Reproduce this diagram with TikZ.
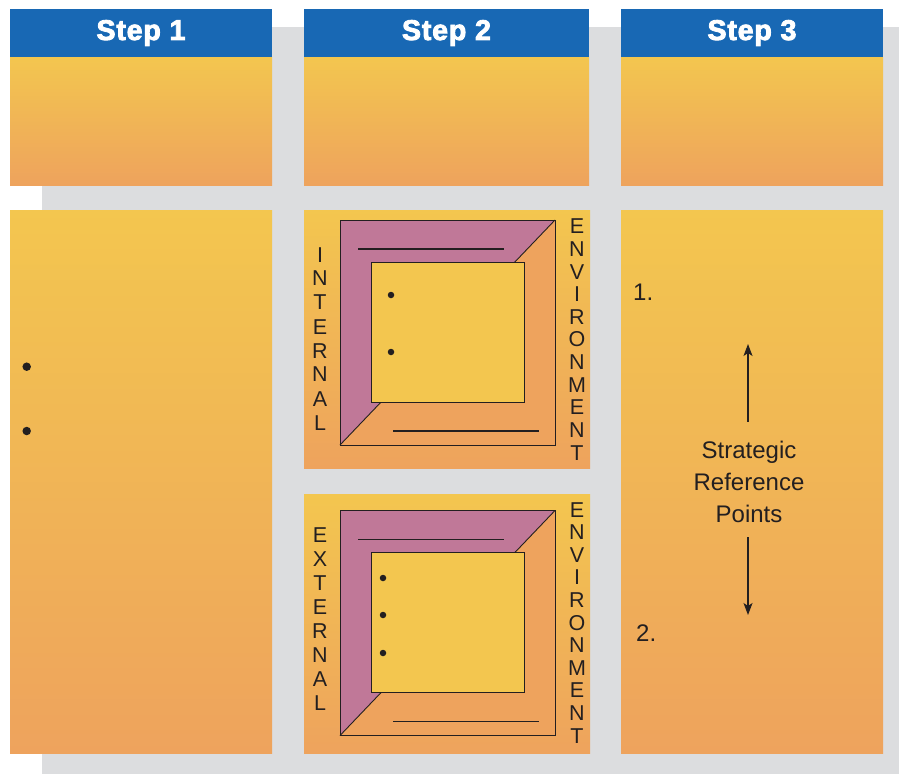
\documentclass[tikz,border=0pt]{standalone}
\usepackage{fontspec}
\setmainfont{Liberation Sans}
\newfontfamily\headfont{Liberation Sans Bold}[FakeBold=3,LetterSpace=3]
\usetikzlibrary{arrows.meta}
\definecolor{hblue}{HTML}{1868B4}
\definecolor{gtop}{HTML}{F3C64F}
\definecolor{gbot}{HTML}{EEA35D}
\definecolor{bggray}{HTML}{DCDDDF}
\definecolor{plum}{HTML}{C07898}
\definecolor{ink}{HTML}{231F20}
\tikzset{
  hdr/.style={fill=hblue, text=white, inner sep=0, font=\headfont\fontsize{28.5}{30}\selectfont},
  panel/.style={top color=gtop, bottom color=gbot, draw=none, inner sep=0},
  bul/.style={circle, fill=ink, inner sep=0, minimum size=6.5pt},
  bigbul/.style={circle, fill=ink, inner sep=0, minimum size=8.5pt},
  vlet/.style={inner sep=0, align=center, text=ink, anchor=north},
  lbl/.style={inner sep=0, text=ink, font=\fontsize{24}{32}\selectfont},
  sqline/.style={draw=ink, line width=1.2pt},
  arr/.style={draw=ink, line width=1.2pt, -{Stealth[length=12pt,width=9pt,inset=3pt]}},
  envsq/.pic={
    \fill[plum] (0,0) -- (215,0) -- (0,225) -- cycle;
    \fill[gbot] (215,0) -- (215,225) -- (0,225) -- cycle;
    \draw[ink, line width=0.9pt] (215,0) -- (0,225);
    \draw[ink, line width=1pt] (0,0) rectangle (215,225);
    \draw[ink, line width=1pt, fill=gtop] (31,42) rectangle (184,182);
    \draw[sqline] (18,29) -- (164,29);
    \draw[sqline] (53,211) -- (199,211);
  }
}
\begin{document}
\begin{tikzpicture}[x=1pt,y=-1pt]
\useasboundingbox (0,0) rectangle (899,774);
\fill[bggray] (42,27) rectangle (899,774);
% headers
\node[hdr, minimum width=262pt, minimum height=48pt] (h1) at (141,33) {Step 1};
\node[hdr, minimum width=285pt, minimum height=48pt] (h2) at (446.5,33) {Step 2};
\node[hdr, minimum width=262pt, minimum height=48pt] (h3) at (752,33) {Step 3};
% upper gradient panels
\node[panel, minimum width=262pt, minimum height=128pt] (u1) at (141,121) {};
\node[panel, minimum width=285pt, minimum height=128pt] (u2) at (446.5,121) {};
\node[panel, minimum width=262pt, minimum height=128pt] (u3) at (752,121) {};
% lower panels
\node[panel, minimum width=262pt, minimum height=543pt] (l1) at (141,481.5) {};
\node[panel, minimum width=286pt, minimum height=258pt] (l2a) at (447,339) {};
\node[panel, minimum width=286pt, minimum height=259pt] (l2b) at (447,623.5) {};
\node[panel, minimum width=262pt, minimum height=543pt] (l3) at (752,481.5) {};
% step 1 bullets
\node[bigbul] (b11) at (26.7,366.7) {};
\node[bigbul] (b12) at (26.7,431) {};
% step 2 squares
\pic at (340,220) {envsq};
\pic at (340,510.5) {envsq};
\node[bul] (b21) at (391,295) {};
\node[bul] (b22) at (391,352) {};
\node[bul] (b23) at (383,578) {};
\node[bul] (b24) at (383,615) {};
\node[bul] (b25) at (383,653) {};
\node[vlet, font=\fontsize{21.5}{24}\selectfont] (int) at (320,247) {I\\N\\T\\E\\R\\N\\A\\L};
\node[vlet, font=\fontsize{21.5}{22.6}\selectfont] (env1) at (577,219) {E\\N\\V\\I\\R\\O\\N\\M\\E\\N\\T};
\node[vlet, font=\fontsize{21.5}{24}\selectfont] (ext) at (320,527) {E\\X\\T\\E\\R\\N\\A\\L};
\node[vlet, font=\fontsize{21.5}{22.6}\selectfont] (env2) at (577,502) {E\\N\\V\\I\\R\\O\\N\\M\\E\\N\\T};
% step 3
\node[lbl, anchor=base west] (n1) at (633,300) {1.};
\node[lbl, anchor=base west] (n2) at (636,641.5) {2.};
\node[lbl, anchor=base] (s1) at (749,458) {Strategic};
\node[lbl, anchor=base] (s2) at (749,490) {Reference};
\node[lbl, anchor=base] (s3) at (749,522.5) {Points};
\coordinate (upS) at (748,421.5);
\coordinate (upE) at (748,344);
\coordinate (dnS) at (748,537);
\coordinate (dnE) at (748,615);
\draw[arr] (upS) -- (upE);
\draw[arr] (dnS) -- (dnE);
\end{tikzpicture}
\end{document}
